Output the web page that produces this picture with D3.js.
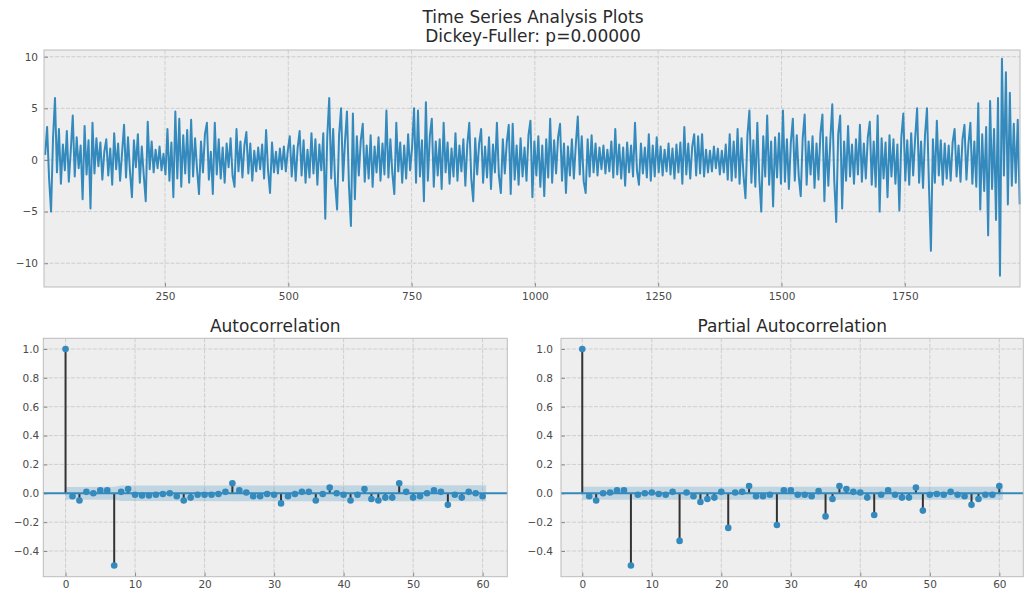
<!DOCTYPE html>
<html>
<head>
<meta charset="utf-8">
<script src="https://cdn.jsdelivr.net/npm/d3@7"></script>
<style>
  body { margin: 0; background: #fff; }
  svg { font-family: "DejaVu Sans", sans-serif; }
</style>
</head>
<body>
<svg id="chart" width="1027" height="591"></svg>
<script>
// 元の系列 (index 7 から 4 刻みで読み取った値)
var tsStart = 7, tsStep = 4;
var tsValues = [
  0.5, 3.2, -1.8, -5.0, 2.1, 6.0, -1.2, 3.0, -2.3, 1.5, -1.0, 2.8, -2.1, 0.9, 4.3, -1.6, 2.2, -0.8, 1.4, -3.8, 3.3, -1.4, 1.9, -4.7, 3.6,
  -1.3, 2.1, -0.6, 1.7, -1.9, 0.8, 2.0, -1.5, 1.1, -2.4, 2.6, -0.9, 1.6, -2.0, 0.7, 3.4, -1.7, 2.2, -1.1, -3.6, 1.9, -0.7, 2.5, -2.2, 1.3,
  -1.5, -4.0, 3.7, -0.9, 1.8, -1.2, 1.0, -0.8, 1.3, -1.0, 0.6, -1.4, 3.0, -2.0, 1.7, -3.6, 4.7, -1.8, 4.0, -2.6, 2.4, -1.3, 2.9, -2.2, 3.9,
  -1.6, 2.1, -0.9, -3.3, 1.8, -1.2, 2.5, 3.6, -1.9, 0.8, -3.3, 3.6, -1.4, 2.0, -1.8, 1.2, -2.2, 1.6, -0.7, 2.1, -1.5, -2.6, 3.0, -1.1, 1.8,
  -1.7, 1.4, 2.7, -1.3, 1.6, -2.0, 0.9, -1.1, 1.2, -0.9, 1.5, -1.8, 2.9, -1.0, -3.2, 1.7, -1.2, 0.8, -1.3, 1.1, -0.9, 1.3, -1.1, 0.9, 2.3,
  -1.6, 1.4, -2.0, 1.2, 2.8, -1.5, 1.9, -2.2, 1.0, -1.7, 2.6, -1.3, 2.0, -2.4, 1.5, -1.0, 2.6, -5.7, 2.2, 6.0, -1.8, 3.0, -2.3, -4.8, 2.4,
  5.0, -2.0, 1.8, 4.7, -2.5, -6.4, 4.5, -3.8, 2.3, -1.5, 1.9, 3.5, -2.1, 1.4, -1.8, 2.4, -2.6, 1.3, -1.2, 2.2, -2.0, 1.6, -1.4, 4.8, -1.7,
  2.0, -1.3, -3.3, 3.6, -1.1, 1.7, -2.2, 1.4, -1.8, 2.5, -1.0, 1.2, 5.0, -2.2, 4.8, -1.6, 1.9, -4.0, 5.6, -2.0, 2.3, 4.0, -2.6, 1.8, -1.5,
  2.0, -2.8, 3.6, -1.2, 1.7, -2.3, 1.1, -1.6, 2.6, -2.0, 1.4, -1.1, 2.0, -2.5, 1.5, 3.6, -1.8, -4.0, 2.1, -1.4, 1.6, 3.0, -2.2, 1.3, -1.7,
  2.2, -2.8, 1.5, -1.2, 3.6, -1.5, -3.2, 2.0, -1.3, 1.7, 3.4, -3.3, 3.5, -1.9, 1.4, -2.4, 2.1, -1.6, 1.2, -2.0, 2.4, 3.8, -3.6, 1.8, -1.5,
  2.3, -2.6, 1.4, -3.5, 2.0, -1.7, 4.0, -2.2, 1.9, -1.3, 2.2, 3.5, -2.0, 1.6, -3.2, 1.3, -1.5, 2.0, -1.8, 1.5, 4.2, -1.4, 2.3, -2.1, -3.2,
  2.0, -1.6, 2.4, -1.2, 1.6, -1.5, 1.2, -0.9, 1.4, -1.3, 1.0, -1.1, 1.8, -1.7, 3.0, -1.4, 1.5, -1.8, 1.2, -2.5, 1.7, -1.2, 1.4, -1.6, 3.6,
  -1.0, -2.4, 1.6, -1.3, 1.2, -1.7, 2.5, -2.0, 1.4, -1.6, 2.2, -1.2, 1.3, -1.5, 1.0, -1.1, 1.6, -1.4, 1.1, -1.8, 1.5, -1.2, 1.7, -2.3, 3.2,
  -1.4, 1.6, -1.8, 1.3, 2.5, -1.5, 2.3, -1.3, 2.5, -1.6, 1.0, -1.2, 0.9, -1.1, 1.3, -0.8, 1.1, -1.4, 0.9, -1.2, 1.5, -1.9, 2.5, -2.0, 1.8,
  -1.7, 3.0, -2.3, 2.1, -1.5, -3.7, 2.4, 4.8, -2.2, 1.9, -2.6, 3.6, -1.8, -5.0, 2.3, -1.6, 4.3, -2.4, 1.8, -4.5, 2.2, -1.7, 2.6, -2.3, 4.8,
  -2.1, 2.0, -2.8, 1.7, 4.0, -2.0, 2.4, -1.6, -3.5, 2.1, 4.4, -2.4, 1.8, -1.4, 2.3, -2.7, 1.6, -1.9, 2.6, 4.4, -4.0, 2.2, -2.5, 1.9, 5.4,
  -2.0, -6.0, 2.5, 4.3, -4.7, 1.8, -2.0, 3.3, -1.6, 1.5, -2.3, 2.0, -1.4, 3.4, -2.1, 1.6, -1.8, 2.2, 3.7, -2.4, 1.8, -2.6, 4.3, -5.0, 2.1,
  -1.8, 1.7, -3.6, 2.4, -1.6, 2.0, -2.3, 1.5, -4.9, 2.2, 4.5, -2.0, 1.9, -2.4, 2.6, -1.5, 2.1, 5.0, -2.2, 1.8, -2.7, 2.4, 5.0, -2.5, -8.8,
  2.0, -2.2, 3.8, -1.5, 1.9, -2.4, 1.6, -1.8, 1.4, -2.0, 1.7, 3.0, -1.6, 1.4, -2.1, 2.0, 3.4, -1.9, 1.5, 3.6, -2.3, 1.8, -2.6, 5.5, -4.8,
  2.5, -3.0, 3.2, -7.3, 5.7, -2.8, 3.0, -5.8, 6.0, -11.2, 9.8, -1.5, 8.5, -4.3, 6.5, -2.5, 3.5, -2.2, 3.9, -4.3
];

// ラグ
var lags = [0, 1, 2, 3, 4, 5, 6, 7, 8, 9, 10, 11, 12, 13, 14, 15, 16, 17, 18, 19, 20,
  21, 22, 23, 24, 25, 26, 27, 28, 29, 30, 31, 32, 33, 34, 35, 36, 37, 38, 39, 40,
  41, 42, 43, 44, 45, 46, 47, 48, 49, 50, 51, 52, 53, 54, 55, 56, 57, 58, 59, 60];

var acfValues = [1.0, -0.02, -0.05, 0.01, 0.0, 0.02, 0.02, -0.5, 0.01, 0.03,
  -0.01, -0.015, -0.015, -0.01, -0.005, 0.0, -0.02, -0.05, -0.03, -0.01,
  -0.01, -0.01, -0.005, 0.01, 0.07, 0.02, 0.005, -0.02, -0.02, -0.005,
  -0.01, -0.07, -0.02, -0.005, 0.01, 0.01, -0.05, -0.005, 0.04, 0.0,
  -0.01, -0.05, -0.01, 0.03, -0.04, -0.05, -0.03, -0.03, 0.07, 0.01,
  -0.03, -0.02, 0.0, 0.02, 0.01, -0.08, -0.01, -0.03, 0.01, 0.0, -0.02];

var pacfValues = [1.0, -0.02, -0.05, 0.0, 0.005, 0.02, 0.02, -0.5, -0.01, 0.0,
  0.005, -0.005, -0.01, 0.01, -0.33, 0.005, -0.02, -0.06, -0.04, -0.03,
  0.01, -0.24, 0.005, 0.01, 0.05, -0.02, -0.02, -0.01, -0.22, 0.02,
  0.02, -0.01, -0.01, -0.02, 0.015, -0.16, -0.04, 0.05, 0.03, 0.01,
  0.005, -0.03, -0.15, -0.01, 0.02, -0.01, -0.03, -0.03, 0.04, -0.12,
  -0.01, -0.005, -0.01, 0.01, -0.01, -0.02, -0.08, -0.04, -0.01, -0.01, 0.05];

// 信頼区間の幅 (±)
var acfBandLags = [0, 1, 7, 8, 60.5],
    acfBandHalf = [0.044, 0.044, 0.045, 0.054, 0.056];
var pacfBandLags = [0, 60.5],
    pacfBandHalf = [0.045, 0.045];

var tsTicksX = [250, 500, 750, 1000, 1250, 1500, 1750],
    tsTicksY = [-10, -5, 0, 5, 10],
    lagTicks = [0, 10, 20, 30, 40, 50, 60],
    corrTicks = [-0.4, -0.2, 0.0, 0.2, 0.4, 0.6, 0.8, 1.0];

var titleText = "Time Series Analysis Plots",
    subtitleText = "Dickey-Fuller: p=0.00000";

var blue = "#348ABD";

var svg = d3.select("#chart");

// 共通の枠・グリッド・目盛り
function drawFrame(g, x, y, xTicks, yTicks, yFmt, yPad, xPad) {
    var x0 = x.range()[0], x1 = x.range()[1],
        y0 = y.range()[0], y1 = y.range()[1];

    g.append("rect")
        .attr("x", x0).attr("y", y1)
        .attr("width", x1 - x0).attr("height", y0 - y1)
        .attr("fill", "#eeeeee");

    g.append("g").selectAll("line")
        .data(xTicks).join("line")
        .attr("x1", d => x(d)).attr("x2", d => x(d))
        .attr("y1", y1).attr("y2", y0)
        .attr("stroke", "#c6c6c6").attr("stroke-width", 0.8)
        .attr("stroke-dasharray", "4,1.5");

    g.append("g").selectAll("line")
        .data(yTicks).join("line")
        .attr("x1", x0).attr("x2", x1)
        .attr("y1", d => y(d)).attr("y2", d => y(d))
        .attr("stroke", "#c6c6c6").attr("stroke-width", 0.8)
        .attr("stroke-dasharray", "4,1.5");

    var xAxis = g.append("g")
        .attr("transform", "translate(0," + y0 + ")")
        .call(d3.axisBottom(x).tickValues(xTicks).tickFormat(d3.format("d"))
            .tickSize(-4).tickPadding(xPad));

    var yAxis = g.append("g")
        .attr("transform", "translate(" + x0 + ",0)")
        .call(d3.axisLeft(y).tickValues(yTicks).tickFormat(yFmt)
            .tickSize(-4).tickPadding(yPad));

    [xAxis, yAxis].forEach(function(a) {
        a.select(".domain").remove();
        a.selectAll(".tick line").attr("stroke", "#8a8a8a");
        a.selectAll(".tick text")
            .attr("fill", "#4a4a4a")
            .style("font-size", "10.5px")
            .style("font-family", "'DejaVu Sans', sans-serif");
    });
}

function drawBorder(g, x, y) {
    g.append("rect")
        .attr("x", x.range()[0]).attr("y", y.range()[1])
        .attr("width", x.range()[1] - x.range()[0])
        .attr("height", y.range()[0] - y.range()[1])
        .attr("fill", "none")
        .attr("stroke", "#bcbcbc").attr("stroke-width", 1);
}

// ---- 上段: 時系列 ----
var tsGroup = svg.append("g").attr("class", "ts");

var xTs = d3.scaleLinear().domain([4.7, 1983.6]).range([44, 1020]);
var yTs = d3.scaleLinear().domain([-12.3, 10.65]).range([287, 50]);

drawFrame(tsGroup, xTs, yTs, tsTicksX, tsTicksY, d3.format("d"), 6, 6);

var tsLine = d3.line()
    .x((d, i) => xTs(tsStart + i * tsStep))
    .y(d => yTs(d));

tsGroup.append("path")
    .datum(tsValues)
    .attr("d", tsLine)
    .attr("fill", "none")
    .attr("stroke", blue)
    .attr("stroke-width", 2)
    .attr("stroke-linejoin", "round");

drawBorder(tsGroup, xTs, yTs);

svg.append("text")
    .attr("x", 533).attr("y", 23)
    .attr("text-anchor", "middle")
    .style("font-size", "17px").attr("fill", "#2a2a2a")
    .text(titleText);
svg.append("text")
    .attr("x", 533).attr("y", 42)
    .attr("text-anchor", "middle")
    .style("font-size", "17px").attr("fill", "#2a2a2a")
    .text(subtitleText);

// ---- 下段: ACF / PACF ----
function drawCorr(cls, values, bandLags, bandHalf, xRange, xDomain, title, yPad) {
    var g = svg.append("g").attr("class", cls);
    var x = d3.scaleLinear().domain(xDomain).range(xRange);
    var y = d3.scaleLinear().domain([-0.578, 1.074]).range([576.7, 338.3]);

    drawFrame(g, x, y, lagTicks, corrTicks, d3.format(".1f"), yPad, 4);

    var band = bandLags.map((l, i) => ({lag: l, h: bandHalf[i]}));
    g.append("path")
        .datum(band)
        .attr("d", d3.area().x(d => x(d.lag)).y0(d => y(-d.h)).y1(d => y(d.h)))
        .attr("fill", blue).attr("fill-opacity", 0.25);

    var pts = lags.map((l, i) => ({lag: l, v: values[i]}));

    g.append("g").selectAll("line")
        .data(pts).join("line")
        .attr("x1", d => x(d.lag)).attr("x2", d => x(d.lag))
        .attr("y1", y(0)).attr("y2", d => y(d.v))
        .attr("stroke", "#333").attr("stroke-width", 2);

    g.append("line")
        .attr("x1", xRange[0]).attr("x2", xRange[1])
        .attr("y1", y(0)).attr("y2", y(0))
        .attr("stroke", blue).attr("stroke-width", 2);

    g.append("g").selectAll("circle")
        .data(pts).join("circle")
        .attr("cx", d => x(d.lag)).attr("cy", d => y(d.v))
        .attr("r", 3.3)
        .attr("fill", blue);

    drawBorder(g, x, y);

    g.append("text")
        .attr("x", (xRange[0] + xRange[1]) / 2).attr("y", 332)
        .attr("text-anchor", "middle")
        .style("font-size", "17px").attr("fill", "#2a2a2a")
        .text(title);
}

drawCorr("acf", acfValues, acfBandLags, acfBandHalf, [43.3, 507.3], [-3.2, 63.55], "Autocorrelation", 4);
drawCorr("pacf", pacfValues, pacfBandLags, pacfBandHalf, [561, 1023.3], [-3.06, 63.45], "Partial Autocorrelation", 8);
</script>
</body>
</html>
